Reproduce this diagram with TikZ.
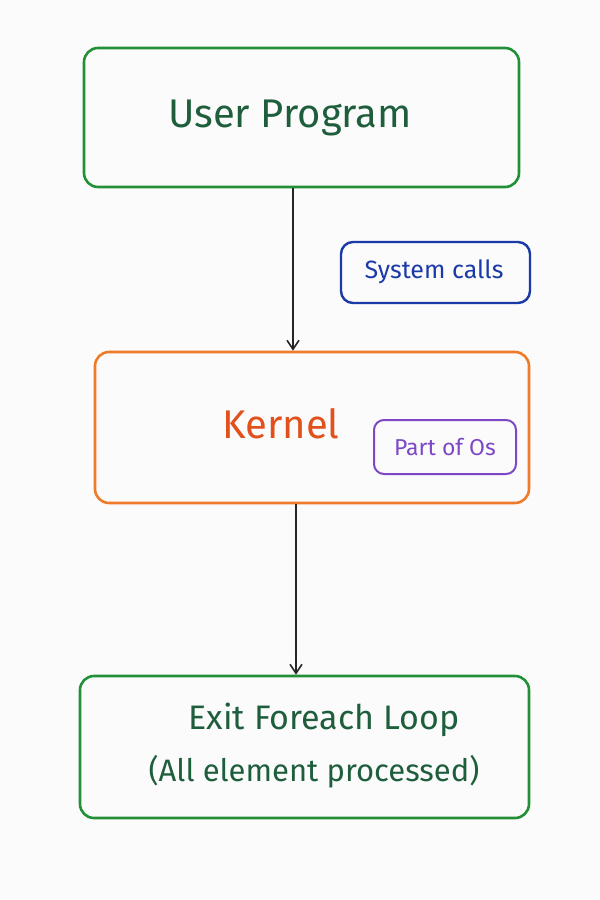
\documentclass[tikz,border=0pt]{standalone}
\usepackage{fontspec}
\setmainfont{Fira Sans}
\usetikzlibrary{arrows.meta}
\definecolor{gbox}{HTML}{239038}
\definecolor{gtxt}{HTML}{1E5E3C}
\definecolor{bbox}{HTML}{1A3AA8}
\definecolor{obox}{HTML}{EE7A2A}
\definecolor{otxt}{HTML}{E2501C}
\definecolor{pbox}{HTML}{7C48C4}
\begin{document}
\begin{tikzpicture}[x=1pt,y=-1pt,
  box/.style={draw,line width=2.6pt,rounded corners=14pt,inner sep=0pt},
  arr/.style={line width=1.6pt,draw=black!85,-{Straight Barb[length=9pt,width=12pt]}}]
\fill[white!98.5!black] (0,0) rectangle (600,900);
\useasboundingbox (0,0) rectangle (600,900);
\node[box,draw=gbox,minimum width=435pt,minimum height=139pt] (up) at (301.5,117.5) {};
\node[text=gtxt,font=\fontsize{40}{46}\selectfont] (upt) at (290,118) {User Program};
\node[box,draw=bbox,line width=2.4pt,rounded corners=12pt,minimum width=189pt,minimum height=61pt] (sc) at (435.5,272.5) {};
\node[text=bbox,font=\fontsize{25}{30}\selectfont] (sct) at (434,272) {System calls};
\node[box,draw=obox,minimum width=434pt,minimum height=151pt] (k) at (312,427.5) {};
\node[text=otxt,font=\fontsize{40}{46}\selectfont] (kt) at (281,424) {Kernel};
\node[box,draw=pbox,line width=2pt,rounded corners=10pt,minimum width=142pt,minimum height=54pt] (po) at (445,447) {};
\node[text=pbox,font=\fontsize{23}{28}\selectfont] (pot) at (445,447) {Part of Os};
\node[box,draw=gbox,minimum width=449pt,minimum height=142pt] (ex) at (304.5,747) {};
\node[text=gtxt,font=\fontsize{34}{40}\selectfont] (ex1) at (324,720) {Exit Foreach Loop};
\node[text=gtxt,font=\fontsize{31}{36}\selectfont] (ex2) at (314,772) {(All element processed)};
\draw[arr] (up.south -| 293,0) -- (k.north -| 293,0);
\draw[arr] (k.south -| 296,0) -- (ex.north -| 296,0);
\end{tikzpicture}
\end{document}
